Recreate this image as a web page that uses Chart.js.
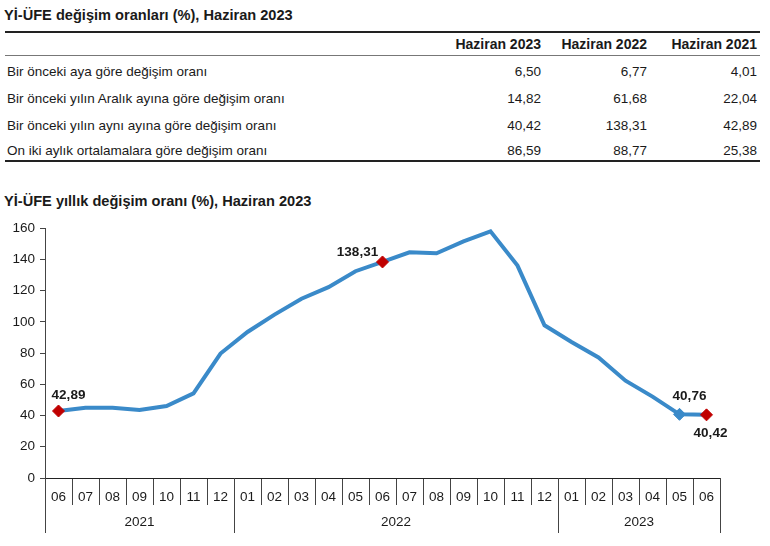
<!DOCTYPE html>
<html>
<head>
<meta charset="utf-8">
<script src="https://cdn.jsdelivr.net/npm/chart.js@4/dist/chart.umd.min.js"></script>
<style>
  html, body { margin: 0; padding: 0; background: #fff; }
  body { width: 770px; height: 546px; position: relative; overflow: hidden;
         font-family: "Liberation Sans", Arial, sans-serif; color: #1a1a1a; }
  .title { position: absolute; left: 4px; font-weight: bold; font-size: 14.6px; line-height: 18px; white-space: nowrap; }
  .rule { position: absolute; left: 5px; width: 755px; }
  .row { position: absolute; left: 5px; width: 755px; height: 16px; line-height: 16px; font-size: 13.5px; white-space: nowrap; }
  .row span { position: absolute; top: 0; }
  .row .lab { left: 2px; }
  .row .val { text-align: right; }
  .row.head { font-weight: bold; font-size: 14px; }
  #chartWrap { position: absolute; left: 0; top: 215px; width: 770px; height: 331px; }
</style>
</head>
<body>
<div class="title" id="t1" style="top:6px;"></div>
<div class="rule" style="top:31px;height:2px;background:#222;"></div>
<div class="rule" style="top:55px;height:1px;background:#777;"></div>
<div class="rule" style="top:160px;height:2px;background:#222;"></div>
<div id="tableRows"></div>
<div class="title" id="t2" style="top:192px;"></div>
<div id="chartWrap"><canvas id="c" width="770" height="331"></canvas></div>
<script>
// ---- Data ----
const tableTitle = 'Yİ-ÜFE değişim oranları (%), Haziran 2023';
const chartTitle = 'Yİ-ÜFE yıllık değişim oranı (%), Haziran 2023';
const tableColumns = ['Haziran 2023', 'Haziran 2022', 'Haziran 2021'];
const tableRowLabels = [
  'Bir önceki aya göre değişim oranı',
  'Bir önceki yılın Aralık ayına göre değişim oranı',
  'Bir önceki yılın aynı ayına göre değişim oranı',
  'On iki aylık ortalamalara göre değişim oranı'
];
const june2023 = [6.50, 14.82, 40.42, 86.59];
const june2022 = [6.77, 61.68, 138.31, 88.77];
const june2021 = [4.01, 22.04, 42.89, 25.38];

const months = ['06','07','08','09','10','11','12','01','02','03','04','05','06','07','08','09','10','11','12','01','02','03','04','05','06'];
const yearLabels = ['2021', '2022', '2023'];
const monthsPerYear = [7, 12, 6];
const annualChange = [42.89, 45.0, 45.0, 43.5, 46.1, 54.2, 79.7, 93.5, 104.6, 114.8, 122.2, 132.4, 138.31,
                      144.5, 143.9, 151.5, 157.9, 136.0, 97.8, 87.1, 77.2, 62.3, 52.1, 40.76, 40.42];
const yTickValues = [0, 20, 40, 60, 80, 100, 120, 140, 160];
const redMarkerIdx = [0, 12, 24];
const blueMarkerIdx = [23];

// ---- Table (HTML text) ----
const fmt = v => v.toFixed(2).replace('.', ',');
document.getElementById('t1').textContent = tableTitle;
document.getElementById('t2').textContent = chartTitle;
const colRights = [541, 647, 757];
const rowsEl = document.getElementById('tableRows');
function addRow(top, label, vals, head) {
  const r = document.createElement('div');
  r.className = 'row' + (head ? ' head' : '');
  r.style.top = top + 'px';
  const l = document.createElement('span'); l.className = 'lab'; l.textContent = label; r.appendChild(l);
  vals.forEach((v, i) => {
    const s = document.createElement('span'); s.className = 'val';
    s.style.right = (760 - colRights[i]) + 'px';
    s.textContent = v; r.appendChild(s);
  });
  rowsEl.appendChild(r);
}
addRow(36, '', tableColumns, true);
const rowTops = [64, 91, 118, 143];
tableRowLabels.forEach((lab, i) => addRow(rowTops[i], lab, [fmt(june2023[i]), fmt(june2022[i]), fmt(june2021[i])], false));

// ---- Chart ----
const lineColor = '#3A8AC9';
const red = '#C00000';
const pointColors = annualChange.map((_, i) => redMarkerIdx.includes(i) ? red : lineColor);
const pointRadii = annualChange.map((_, i) => (redMarkerIdx.includes(i) || blueMarkerIdx.includes(i)) ? 6 : 0);

const labelPlacement = {
  0:  { dx: 10, dy: -16, align: 'center' },
  12: { dx: -25, dy: -10, align: 'center' },
  23: { dx: 10, dy: -18, align: 'center' },
  24: { dx: 4, dy: 18, align: 'center' }
};

const extras = {
  id: 'extras',
  afterDraw(chart) {
    const ctx = chart.ctx;
    const x = chart.scales.x;
    const area = chart.chartArea;
    ctx.save();
    // data labels
    const meta = chart.getDatasetMeta(0);
    ctx.font = 'bold 13.5px "Liberation Sans", Arial, sans-serif';
    ctx.fillStyle = '#1a1a1a';
    ctx.textBaseline = 'middle';
    Object.keys(labelPlacement).forEach(k => {
      const i = +k, p = labelPlacement[k];
      const pt = meta.data[i];
      ctx.textAlign = p.align;
      ctx.fillText(fmt(annualChange[i]), pt.x + p.dx, pt.y + p.dy);
    });
    // year row
    ctx.strokeStyle = '#444';
    ctx.lineWidth = 1;
    ctx.font = '13.5px "Liberation Sans", Arial, sans-serif';
    ctx.textAlign = 'center';
    let start = 0;
    const yBottom = area.bottom + 55;
    const drawSep = v => {
      const px = Math.round(x.getPixelForValue(v)) + 0.5;
      ctx.beginPath(); ctx.moveTo(px, area.bottom); ctx.lineTo(px, yBottom); ctx.stroke();
    };
    drawSep(-0.5);
    yearLabels.forEach((yl, j) => {
      const end = start + monthsPerYear[j] - 1;
      drawSep(end + 0.5);
      const cx = (x.getPixelForValue(start - 0.5) + x.getPixelForValue(end + 0.5)) / 2;
      ctx.fillText(yl, cx, area.bottom + 44);
      start = end + 1;
    });
    ctx.restore();
  }
};

new Chart(document.getElementById('c'), {
  type: 'line',
  data: {
    labels: months,
    datasets: [{
      data: annualChange,
      borderColor: lineColor,
      borderWidth: 4,
      tension: 0,
      pointStyle: 'rectRot',
      pointRadius: pointRadii,
      pointHoverRadius: pointRadii,
      pointBackgroundColor: pointColors,
      pointBorderColor: pointColors,
      pointBorderWidth: 1
    }]
  },
  options: {
    responsive: false,
    animation: false,
    events: [],
    layout: { padding: { left: 0, right: 50, top: 5, bottom: 0 } },
    plugins: { legend: { display: false }, tooltip: { enabled: false }, title: { display: false } },
    scales: {
      y: {
        min: 0, max: 160,
        afterBuildTicks: s => { s.ticks = yTickValues.map(v => ({ value: v })); },
        afterFit: s => { s.width = 45; },
        ticks: { color: '#1a1a1a', font: { size: 13.5, family: '"Liberation Sans", Arial, sans-serif' }, padding: 5 },
        grid: { drawOnChartArea: false, drawTicks: true, tickLength: 5, color: '#444' },
        border: { color: '#444', width: 1 }
      },
      x: {
        offset: true,
        afterFit: s => { s.height = 68; },
        ticks: { color: '#1a1a1a', font: { size: 13.5, family: '"Liberation Sans", Arial, sans-serif' },
                 padding: -16, maxRotation: 0, autoSkip: false },
        grid: { offset: true, drawOnChartArea: false, drawTicks: true, tickLength: 27, color: '#444' },
        border: { color: '#222', width: 1 }
      }
    }
  },
  plugins: [extras]
});
</script>
</body>
</html>
